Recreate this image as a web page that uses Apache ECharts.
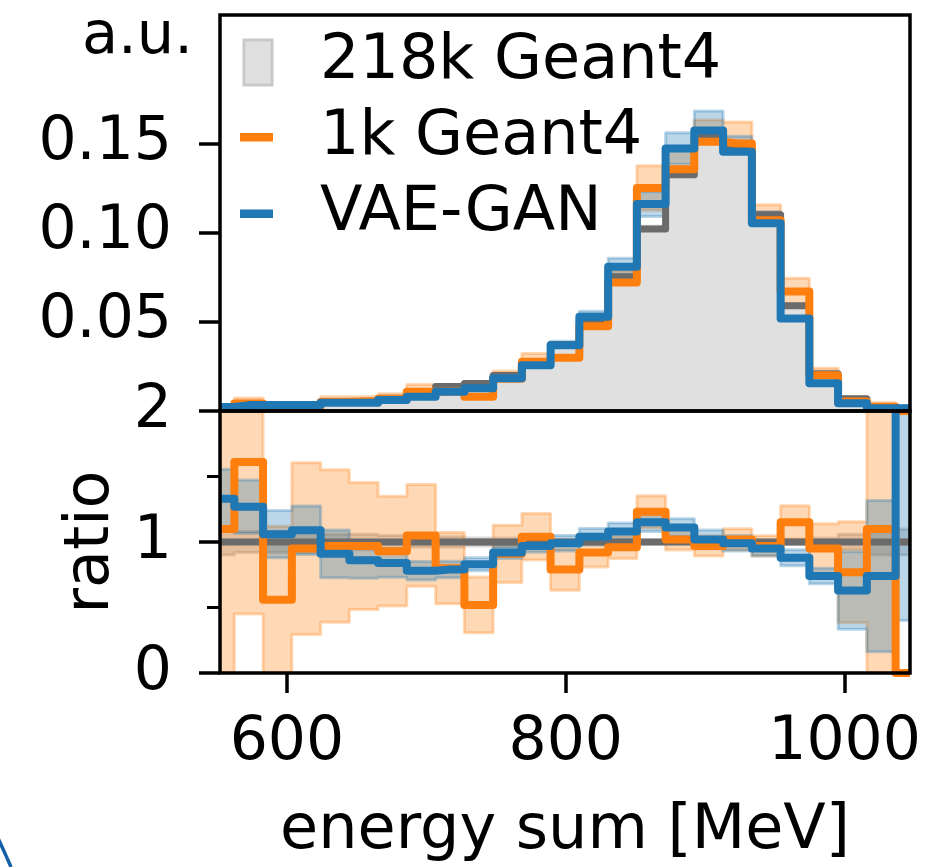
<!DOCTYPE html>
<html>
<head>
<meta charset="utf-8">
<script src="https://cdn.jsdelivr.net/npm/echarts@6/dist/echarts.min.js"></script>
<style>
  html, body { margin: 0; padding: 0; background: #ffffff; }
  #chart { width: 927px; height: 867px; }
</style>
</head>
<body>
<div id="chart"></div>
<script>
// Bin centres of the energy-sum histogram [MeV]
const binCenters = [552.0, 572.6, 593.2, 613.9, 634.5, 655.1, 675.7, 696.3, 717.0, 737.6,
                    758.2, 778.8, 799.4, 820.1, 840.7, 861.3, 881.9, 902.5, 923.2, 943.8,
                    964.4, 985.0, 1005.6, 1026.3, 1046.9];

// Normalised distributions (a.u.)
const geant218k = [0.0017, 0.0026, 0.0031, 0.0030, 0.0050, 0.0054, 0.0072, 0.0103, 0.0137, 0.0154,
                   0.0199, 0.0264, 0.0373, 0.0510, 0.0752, 0.1020, 0.1325, 0.1535, 0.1465, 0.1100,
                   0.0590, 0.0209, 0.0069, 0.0022, 0.0004];
const geant1k   = [0.0018, 0.0042, 0.0017, 0.0028, 0.0050, 0.0053, 0.0067, 0.0108, 0.0110, 0.0080,
                   0.0181, 0.0276, 0.0298, 0.0475, 0.0720, 0.1250, 0.1355, 0.1510, 0.1500, 0.1070,
                   0.0670, 0.0200, 0.0053, 0.0024, 0.0000];
const vaeGan    = [0.0022, 0.0033, 0.0033, 0.0033, 0.0046, 0.0046, 0.0061, 0.0080, 0.0108, 0.0127,
                   0.0183, 0.0257, 0.0369, 0.0528, 0.0808, 0.1160, 0.1472, 0.1572, 0.1453, 0.1052,
                   0.0519, 0.0155, 0.0043, 0.0016, 0.0016];

// Relative statistical uncertainty per bin
const geant218kRelErr = [0.10, 0.08, 0.08, 0.08, 0.06, 0.06, 0.05, 0.04, 0.04, 0.03,
                         0.03, 0.02, 0.02, 0.02, 0.015, 0.015, 0.015, 0.015, 0.015, 0.015,
                         0.02, 0.03, 0.06, 0.10, 0.10];
const geant1kRelErr   = [1.00, 0.72, 1.00, 0.69, 0.60, 0.50, 0.45, 0.37, 0.34, 0.41,
                         0.24, 0.17, 0.20, 0.12, 0.09, 0.10, 0.08, 0.08, 0.08, 0.08,
                         0.11, 0.20, 0.50, 1.00, 0.00];
const vaeGanRelErr    = [0.17, 0.16, 0.17, 0.17, 0.20, 0.16, 0.13, 0.09, 0.08, 0.06,
                         0.05, 0.05, 0.06, 0.06, 0.06, 0.06, 0.06, 0.07, 0.06, 0.06,
                         0.07, 0.08, 0.47, 0.78, 0.90];

// Ratio to the 218k Geant4 reference
const ratio1k     = [1.10, 1.61, 0.56, 0.95, 0.97, 0.97, 0.93, 1.05, 0.80, 0.52,
                     0.91, 1.04, 0.79, 0.92, 0.96, 1.23, 1.02, 0.97, 1.02, 0.97,
                     1.15, 0.95, 0.77, 1.10, 0.00];
const ratioVaeGan = [1.33, 1.27, 1.06, 1.09, 0.91, 0.86, 0.84, 0.78, 0.79, 0.83,
                     0.92, 0.97, 0.99, 1.04, 1.08, 1.15, 1.11, 1.02, 0.99, 0.95,
                     0.88, 0.74, 0.63, 0.74, 4.00];

// Tick positions
const xMajorTicks = [600, 800, 1000];
const xMinorTicks = [650, 750, 850, 950];
const yTopTicks = [0.05, 0.10, 0.15];
const yRatioTicks = [0, 1, 2];

const legendLabels = ['218k Geant4', '1k Geant4', 'VAE-GAN'];

const FONT = 'DejaVu Sans';
const C_REF = '#6b6b6b';
const C_REF_FILL = '#e0e0e0';
const C_ORANGE = '#ff7f0e';
const C_BLUE = '#1f77b4';
const BAND_REF = 'rgba(128,128,128,0.3)';
const BAND_ORANGE = 'rgba(255,127,14,0.3)';
const BAND_BLUE = 'rgba(31,119,180,0.3)';

const refRatio = geant218k.map(() => 1);

// bin edges: half bins at both ends of the axis
const nBins = binCenters.length;
const edges = [binCenters[0]];
for (let i = 0; i < nBins - 1; i++) edges.push((binCenters[i] + binCenters[i + 1]) / 2);
edges.push(binCenters[nBins - 1]);

function stepLine(name, values, color, width, xi, yi, extra) {
  return Object.assign({
    type: 'line', name: name, step: 'middle',
    xAxisIndex: xi, yAxisIndex: yi,
    data: binCenters.map((x, i) => [x, values[i]]),
    showSymbol: false, symbol: 'none', silent: true, clip: true,
    lineStyle: { color: color, width: width, join: 'round' },
    itemStyle: { color: color }
  }, extra || {});
}

// uncertainty band drawn as one stepped polygon
function band(name, values, rel, color, xi, yi) {
  const lo = values.map((v, i) => v * (1 - rel[i]));
  const hi = values.map((v, i) => v * (1 + rel[i]));
  return {
    type: 'custom', name: name, xAxisIndex: xi, yAxisIndex: yi,
    silent: true, clip: true,
    data: [[binCenters[0], 0]],
    renderItem: function (params, api) {
      const pts = [];
      for (let i = 0; i < nBins; i++) {
        pts.push(api.coord([edges[i], hi[i]]));
        pts.push(api.coord([edges[i + 1], hi[i]]));
      }
      for (let i = nBins - 1; i >= 0; i--) {
        pts.push(api.coord([edges[i + 1], lo[i]]));
        pts.push(api.coord([edges[i], lo[i]]));
      }
      return {
        type: 'polygon',
        shape: { points: pts },
        style: { fill: color, stroke: color, lineWidth: 3, lineJoin: 'round' }
      };
    }
  };
}

const tickStyle = { color: '#000', width: 3.5 };
const labelStyle = { fontSize: 60, fontFamily: FONT, color: '#000' };
const nameStyle = { fontSize: 62, fontFamily: FONT, color: '#000' };

const chart = echarts.init(document.getElementById('chart'), null, { renderer: 'canvas' });

const option = {
  animation: false,
  backgroundColor: '#ffffff',
  grid: [
    { left: 220, top: 15, width: 690, height: 396, show: true, borderColor: '#000',
      borderWidth: 3.5, backgroundColor: 'transparent', z: 10 },
    { left: 220, top: 411, width: 690, height: 262, show: true, borderColor: '#000',
      borderWidth: 3.5, backgroundColor: 'transparent', z: 10 }
  ],
  xAxis: [
    { gridIndex: 0, type: 'value', min: binCenters[0], max: binCenters[nBins - 1],
      axisLine: { show: false }, axisTick: { show: false }, axisLabel: { show: false },
      splitLine: { show: false } },
    { gridIndex: 1, type: 'value', min: binCenters[0], max: binCenters[nBins - 1],
      axisLine: { show: false },
      axisTick: { show: true, customValues: xMajorTicks, length: 20, lineStyle: tickStyle },
      axisLabel: Object.assign({ customValues: xMajorTicks, margin: 40,
                                 formatter: v => String(Math.round(v)) }, labelStyle),
      splitLine: { show: false },
      name: 'energy sum [MeV]', nameLocation: 'middle', nameGap: 128,
      nameTextStyle: nameStyle },
    { gridIndex: 1, type: 'value', min: binCenters[0], max: binCenters[nBins - 1],
      axisLine: { show: false },
      axisTick: { show: true, customValues: xMinorTicks, length: 12, lineStyle: { color: '#000', width: 3 } },
      axisLabel: { show: false }, splitLine: { show: false } }
  ],
  yAxis: [
    { gridIndex: 0, type: 'value', min: 0, max: 0.222,
      axisLine: { show: false },
      axisTick: { show: true, customValues: yTopTicks, length: 21, lineStyle: tickStyle },
      axisLabel: Object.assign({ customValues: yTopTicks, margin: 48,
                                 formatter: v => v.toFixed(2) }, labelStyle),
      splitLine: { show: false },
      name: 'a.u.', nameLocation: 'end', nameGap: -23,
      nameTextStyle: { fontSize: 59, fontFamily: FONT, color: '#000', align: 'right',
                       verticalAlign: 'middle', padding: [0, 27, 0, 0] } },
    { gridIndex: 1, type: 'value', min: 0, max: 2, interval: 1,
      axisLine: { show: false },
      axisTick: { show: true, customValues: yRatioTicks, length: 21, lineStyle: tickStyle },
      minorTick: { show: true, splitNumber: 2, length: 13, lineStyle: { color: '#000', width: 3 } },
      axisLabel: Object.assign({ customValues: yRatioTicks, margin: 48,
                                 showMinLabel: true, showMaxLabel: true }, labelStyle),
      splitLine: { show: false }, minorSplitLine: { show: false },
      name: 'ratio', nameLocation: 'middle', nameGap: 78,
      nameTextStyle: nameStyle }
  ],
  series: [
    // distributions
    stepLine('218k Geant4', geant218k, C_REF, 7, 0, 0,
             { areaStyle: { color: C_REF_FILL, opacity: 1 } }),
    band('218k Geant4 unc.', geant218k, geant218kRelErr, BAND_REF, 0, 0),
    band('1k Geant4 unc.', geant1k, geant1kRelErr, BAND_ORANGE, 0, 0),
    stepLine('1k Geant4', geant1k, C_ORANGE, 8, 0, 0),
    band('VAE-GAN unc.', vaeGan, vaeGanRelErr, BAND_BLUE, 0, 0),
    stepLine('VAE-GAN', vaeGan, C_BLUE, 8, 0, 0),
    // ratios
    stepLine('218k Geant4 ratio', refRatio, C_REF, 7, 1, 1),
    band('218k Geant4 ratio unc.', refRatio, geant218kRelErr, BAND_REF, 1, 1),
    band('1k Geant4 ratio unc.', ratio1k, geant1kRelErr, BAND_ORANGE, 1, 1),
    stepLine('1k Geant4 ratio', ratio1k, C_ORANGE, 8, 1, 1),
    band('VAE-GAN ratio unc.', ratioVaeGan, vaeGanRelErr, BAND_BLUE, 1, 1),
    stepLine('VAE-GAN ratio', ratioVaeGan, C_BLUE, 8, 1, 1)
  ],
  graphic: [
    // legend
    { type: 'rect', shape: { x: 244, y: 40, width: 28, height: 45 },
      style: { fill: C_REF_FILL, stroke: '#c9c9c9', lineWidth: 3 }, z: 20 },
    { type: 'rect', shape: { x: 240, y: 133, width: 33, height: 8.5 },
      style: { fill: C_ORANGE }, z: 20 },
    { type: 'rect', shape: { x: 240, y: 209.5, width: 33, height: 8.5 },
      style: { fill: C_BLUE }, z: 20 },
    { type: 'text', x: 320, y: 62, z: 20,
      style: { text: legendLabels[0], fontSize: 62, fontFamily: FONT, fill: '#000', verticalAlign: 'middle' } },
    { type: 'text', x: 320, y: 138, z: 20,
      style: { text: legendLabels[1], fontSize: 62, fontFamily: FONT, fill: '#000', verticalAlign: 'middle' } },
    { type: 'text', x: 320, y: 214, z: 20,
      style: { text: legendLabels[2], fontSize: 62, fontFamily: FONT, fill: '#000', verticalAlign: 'middle' } },
    // edge of the neighbouring panel outline
    { type: 'polyline', z: 20,
      shape: { points: [[-3, 836], [3, 849], [11, 867]], smooth: 0.4 },
      style: { stroke: '#1560a8', lineWidth: 3.5, fill: null } }
  ]
};

chart.setOption(option);
</script>
</body>
</html>
